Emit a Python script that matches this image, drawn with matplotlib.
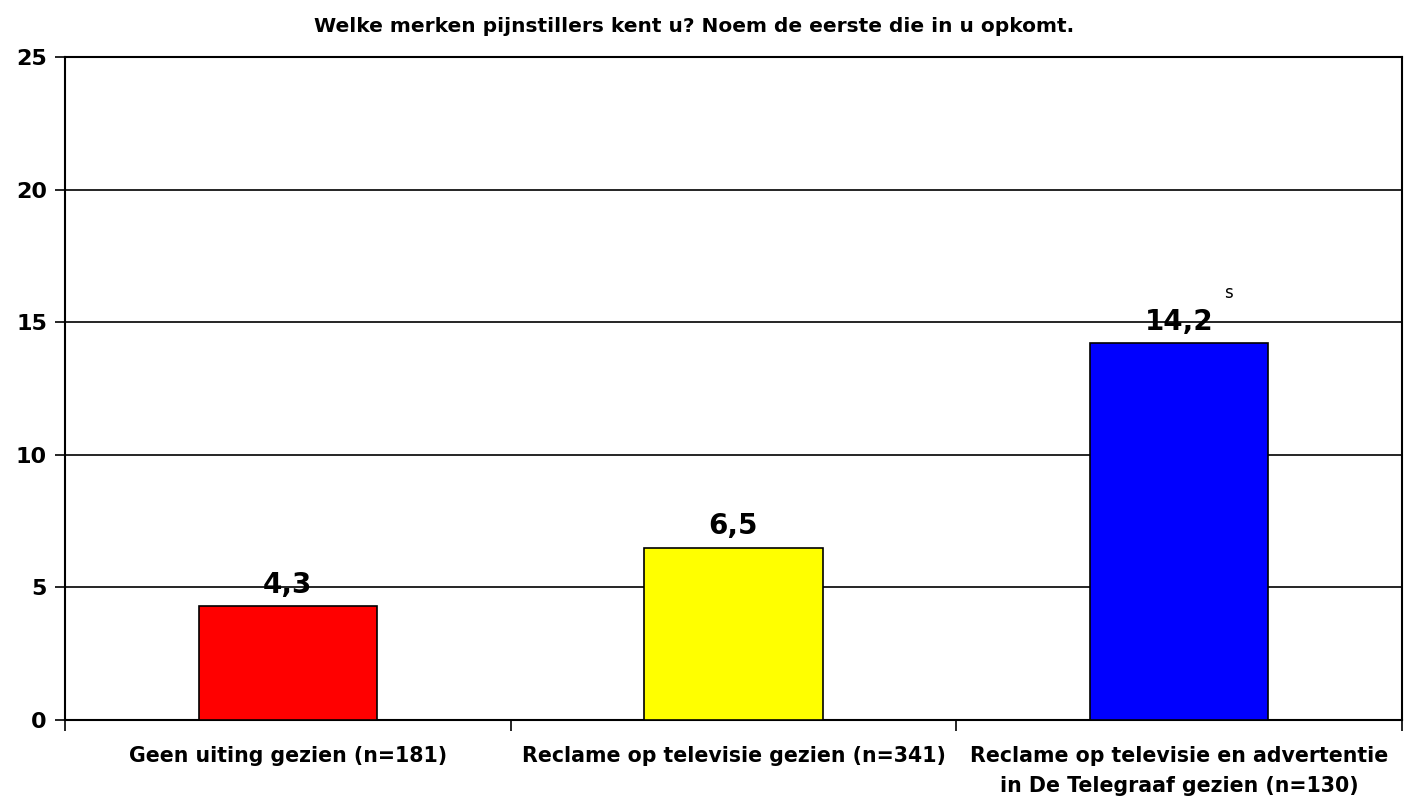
import matplotlib
matplotlib.use("Agg")
import matplotlib.pyplot as plt

# data
categories = ["Geen uiting gezien (n=181)",
              "Reclame op televisie gezien (n=341)",
              "Reclame op televisie en advertentie\nin De Telegraaf gezien (n=130)"]
values = [4.3, 6.5, 14.2]
value_labels = ["4,3", "6,5", "14,2"]
markers = ["", "", "s"]
colors = ["#ff0000", "#ffff00", "#0000ff"]
yticks = [0, 5, 10, 15, 20, 25]

plt.rcParams["font.family"] = ["DejaVu Sans"]

fig = plt.figure(figsize=(14.05, 7.96), dpi=100)
ax = fig.add_axes([65 / 1405, 1 - 720 / 796, (1402 - 65) / 1405, (720 - 57) / 796])

x = range(len(categories))
ax.bar(x, values, width=0.4, color=colors, edgecolor="black", linewidth=1.2, zorder=3)

for i, v in enumerate(values):
    ax.text(i, v + 0.28, value_labels[i], ha="center", va="bottom",
            fontsize=20, fontweight="bold", zorder=4)
    if markers[i]:
        ax.text(i + 0.11, v + 1.55, markers[i], ha="center", va="bottom", fontsize=12)

ax.set_xlim(-0.5, len(categories) - 0.5)
ax.set_ylim(0, 25)
ax.set_yticks(yticks)
ax.set_yticklabels([str(t) for t in yticks], fontsize=16, fontweight="bold")
ax.yaxis.grid(True, color="black", linewidth=1.2, zorder=0)

ax.set_xticks(list(x))
ax.set_xticklabels(categories, fontsize=14.8, fontweight="bold", linespacing=1.6)
ax.set_xticks([i - 0.5 for i in range(len(categories) + 1)], minor=True)
ax.tick_params(axis="x", which="major", length=0, pad=19)
ax.tick_params(axis="x", which="minor", length=8, width=1.2, direction="out")
ax.tick_params(axis="y", length=7, width=1.2, direction="out", pad=6)

for s in ax.spines.values():
    s.set_color("black")
    s.set_linewidth(1.5)

fig.text(694 / 1405, 1 - 27 / 796, "Welke merken pijnstillers kent u? Noem de eerste die in u opkomt.",
         ha="center", va="center", fontsize=14.5, fontweight="bold")

plt.savefig("out.png", dpi=100)
